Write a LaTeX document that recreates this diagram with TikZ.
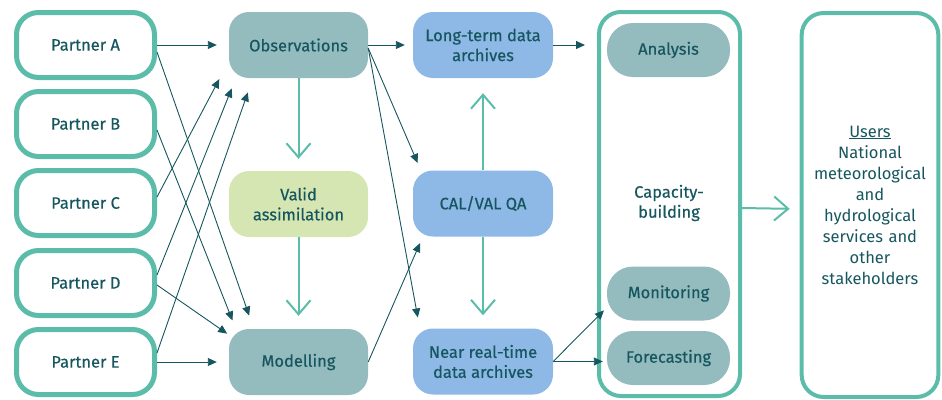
\documentclass[tikz,border=0pt]{standalone}
\usepackage{fontspec}
\setmainfont{Fira Sans}
\newfontfamily\labelfont{Fira Sans}[FakeBold=0.4]
\usetikzlibrary{arrows.meta}
\definecolor{rim}{HTML}{5BBDA9}
\definecolor{ink}{HTML}{16565F}
\definecolor{slate}{HTML}{94BBBE}
\definecolor{sage}{HTML}{D5E6B3}
\definecolor{sky}{HTML}{8EB8E5}

\begin{document}
\begin{tikzpicture}[x=1pt,y=-1pt,
   font=\labelfont\fontsize{16.5}{20}\selectfont,
   partner/.style={draw=rim,line width=5pt,rounded corners=22pt,fill=white,
      text=ink,minimum width=138pt,minimum height=65pt},
   box/.style={rounded corners=20pt,minimum width=139pt,minimum height=66pt,
      align=center,text=ink,inner sep=2pt},
   pill/.style={rounded corners=26pt,fill=slate,minimum width=123pt,
      minimum height=54pt,text=ink},
   frame/.style={draw=rim,line width=4pt,rounded corners=22pt,
      minimum width=141pt,minimum height=384pt,align=center,text=ink},
   link/.style={-{Triangle[length=9pt,width=8pt]},draw=ink,line width=0.9pt},
   flow/.style={-{Straight Barb[length=14pt,width=24pt]},draw=rim,line width=2pt}]
\useasboundingbox (0,0) rectangle (942,399);
% partners
\node[partner] (pA) at (85.5,45) {Partner A};
\node[partner] (pB) at (85.5,124) {Partner B};
\node[partner] (pC) at (85.5,203) {Partner C};
\node[partner] (pD) at (85.5,283) {Partner D};
\node[partner] (pE) at (85.5,362) {Partner E};
% second column
\node[box,fill=slate] (obs) at (298.5,45) {Observations};
\node[box,fill=sage] (val) at (298.5,204) {Valid\\assimilation};
\node[box,fill=slate] (mod) at (298.5,362) {Modelling};
% archives
\node[box,fill=sky,minimum width=140pt] (lt) at (483,45) {Long-term data\\archives};
\node[box,fill=sky,minimum width=140pt] (cal) at (483,203.5) {CAL/VAL QA};
\node[box,fill=sky,minimum width=140pt] (nrt) at (483,361.5) {Near real-time\\data archives};
% capacity building
\node[frame] (cap) at (669.5,204) {};
\node[text=ink,align=center] (capt) at (669,203) {Capacity-\\building};
\node[pill] (ana) at (668.5,50) {Analysis};
\node[pill] (mon) at (668.5,293.5) {Monitoring};
\node[pill] (fore) at (668.5,358) {Forecasting};
% users
\node[frame,minimum width=136pt,text width=130pt,
   font=\normalfont\fontsize{16.5}{21}\selectfont] (usr) at (870,205)
   {\underline{Users}\\National\\meteorological\\and\\hydrological\\services and\\other\\stakeholders};

\draw[link,shorten >=12pt] (pA.east) -- (obs.west);
\draw[link,shorten >=14pt] ([yshift=-7pt]pA.east) -- ([xshift=25pt]mod.north west);
\draw[link,shorten >=9pt] ([yshift=-6pt]pB.east) -- ([xshift=7pt]mod.north west);
\draw[link,shorten >=1pt] ([yshift=6pt]pC.east) -- ([xshift=-9pt]obs.south west);
\draw[link,shorten >=11pt] ([yshift=8pt]pD.east) -- ([xshift=7pt]obs.south west);
\draw[link,shorten >=15pt] ([yshift=9pt]pE.east) -- ([xshift=24pt]obs.south west);
\draw[link,shorten >=2pt] ([yshift=-2pt]pD.east) -- ([yshift=-6pt]mod.north west);
\draw[link,shorten >=12pt] (pE.east) -- (mod.west);

\draw[link,shorten >=8pt] (obs.east) -- (lt.west);
\draw[link,shorten >=8pt] ([yshift=-3pt]obs.east) -- ([xshift=8pt]cal.north west);
\draw[link,shorten >=11pt] ([yshift=-3pt]obs.east) -- ([xshift=7pt]nrt.north west);
\draw[link,shorten >=7pt] (mod.east) -- ([xshift=10pt]cal.south west);
\draw[link,shorten >=12pt] (lt.east) -- (cap.west |- lt.east);
\draw[link,shorten >=4pt] (nrt.east) -- ([yshift=-14pt]mon.west);
\draw[link,shorten >=4pt] (nrt.east) -- (fore.west |- nrt.east);

\draw[flow,shorten >=12pt] (obs.south) -- (val.north);
\draw[flow,shorten >=13pt] (val.south) -- (mod.north);
\draw[flow,shorten >=15pt] (cal.north) -- (lt.south);
\draw[flow,shorten >=13pt] (cal.south) -- (nrt.north);
\draw[flow,shorten >=10pt] ([yshift=-4pt]cap.east) -- ([yshift=-4pt]usr.west);
\end{tikzpicture}
\end{document}
